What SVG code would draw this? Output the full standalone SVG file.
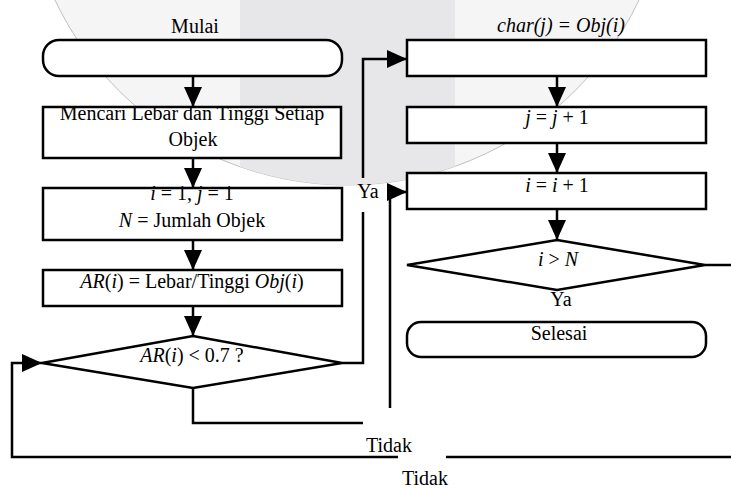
<svg xmlns="http://www.w3.org/2000/svg" width="731" height="488" viewBox="0 0 731 488">
  <defs>
    <clipPath id="circ"><circle cx="347" cy="-138" r="323"/></clipPath>
    <marker id="arr" viewBox="0 0 20 18" refX="20" refY="9" markerWidth="20" markerHeight="18" markerUnits="userSpaceOnUse" orient="auto">
      <path d="M0,0 L20,9 L0,18 Z" fill="#000"/>
    </marker>
  </defs>
  <style>
    .shape { fill: #fff; stroke: #000; stroke-width: 2.5; }
    .conn { fill: none; stroke: #000; stroke-width: 2.5; }
    text { font-family: "Liberation Serif", "Times New Roman", serif; font-size: 20px; fill: #000; }
    .c { text-anchor: middle; }
    .it { font-style: italic; }
  </style>
  <rect width="731" height="488" fill="#fff"/>
  <g id="background">
    <circle cx="347" cy="-138" r="323" fill="#f5f5f5" stroke="#b0b0b0" stroke-width="0.8"/>
    <rect x="240" y="0" width="215" height="200" fill="#e7e7e9" clip-path="url(#circ)"/>
  </g>

  <g id="start">
    <rect class="shape" x="43" y="40" width="299" height="36" rx="16"/>
    <text class="c" x="195" y="33">Mulai</text>
  </g>
  <g id="measure">
    <rect class="shape" x="43" y="107" width="298" height="51"/>
    <text class="c" x="192" y="120">Mencari Lebar dan Tinggi Setiap</text>
    <text class="c" x="193" y="146">Objek</text>
  </g>
  <g id="init">
    <rect class="shape" x="43" y="188" width="299" height="52"/>
    <text class="c" x="192" y="200"><tspan class="it">i</tspan> = 1, <tspan class="it">j</tspan> = 1</text>
    <text class="c" x="192" y="227"><tspan class="it">N</tspan> = Jumlah Objek</text>
  </g>
  <g id="ratio">
    <rect class="shape" x="43" y="270" width="299" height="36"/>
    <text class="c" x="192" y="288"><tspan class="it">AR</tspan>(<tspan class="it">i</tspan>) = Lebar/Tinggi <tspan class="it">Obj</tspan>(<tspan class="it">i</tspan>)</text>
  </g>
  <g id="decision1">
    <polygon class="shape" points="193,336 342,363 193,388 42,363"/>
    <text class="c" x="192" y="362"><tspan class="it">AR</tspan>(<tspan class="it">i</tspan>) &lt; 0.7 ?</text>
  </g>
  <g id="store">
    <rect class="shape" x="407" y="40" width="299" height="36"/>
    <text class="c it" x="561" y="32">char(j) = Obj(i)</text>
  </g>
  <g id="incj">
    <rect class="shape" x="407" y="107" width="299" height="36"/>
    <text class="c" x="557" y="124"><tspan class="it">j</tspan> = <tspan class="it">j</tspan> + 1</text>
  </g>
  <g id="inci">
    <rect class="shape" x="407" y="173" width="299" height="36"/>
    <text class="c" x="557" y="192"><tspan class="it">i</tspan> = <tspan class="it">i</tspan> + 1</text>
  </g>
  <g id="decision2">
    <polygon class="shape" points="557,240 705,265 557,290 407,265"/>
    <text class="c" x="558" y="266"><tspan class="it">i</tspan> &gt; <tspan class="it">N</tspan></text>
  </g>
  <g id="end">
    <rect class="shape" x="407" y="322" width="299" height="35" rx="14"/>
    <text class="c" x="559" y="340">Selesai</text>
  </g>

  <g id="connectors">
    <path class="conn" d="M193,76 V107" marker-end="url(#arr)"/>
    <path class="conn" d="M193,158 V188" marker-end="url(#arr)"/>
    <path class="conn" d="M193,240 V270" marker-end="url(#arr)"/>
    <path class="conn" d="M193,306 V336" marker-end="url(#arr)"/>
    <path class="conn" d="M342,363 H363 V212"/>
    <path class="conn" d="M363,178 V59 H407" marker-end="url(#arr)"/>
    <path class="conn" d="M193,388 V423 H363"/>
    <path class="conn" d="M390,408 V192 H407" marker-end="url(#arr)"/>
    <path class="conn" d="M557,76 V107" marker-end="url(#arr)"/>
    <path class="conn" d="M557,143 V173" marker-end="url(#arr)"/>
    <path class="conn" d="M557,209 V240" marker-end="url(#arr)"/>
    <path class="conn" d="M705,265 H731"/>
    <path class="conn" d="M731,457 H446"/>
    <path class="conn" d="M398,457 H12 V363 H42" marker-end="url(#arr)"/>
    <text class="c" x="368" y="198">Ya</text>
    <text class="c" x="561" y="306">Ya</text>
    <text class="c" x="389" y="452">Tidak</text>
    <text class="c" x="425" y="485">Tidak</text>
  </g>
</svg>
